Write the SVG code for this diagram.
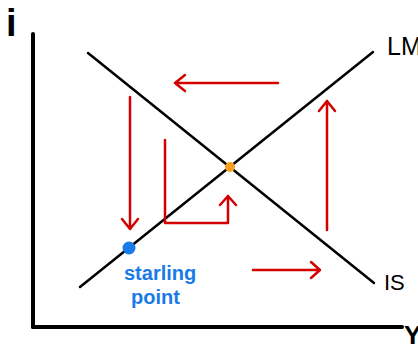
<svg xmlns="http://www.w3.org/2000/svg" width="418" height="345" viewBox="0 0 418 345">
<style>
.axis{stroke:#000;stroke-width:4;stroke-linecap:round;fill:none}
.curve{stroke:#000;stroke-width:2.5;stroke-linecap:round;fill:none}
.arr{stroke:#d40000;stroke-width:2.5;stroke-linecap:round;stroke-linejoin:round;fill:none}
.lbl{font-family:"Liberation Sans",Arial,sans-serif;fill:#000}
.note{font-family:"Liberation Sans",Arial,sans-serif;fill:#1a7ae8;font-weight:bold;font-size:20px}
</style>
<rect width="418" height="345" fill="#fff"/>
<g id="axes">
<line class="axis" x1="33" y1="34" x2="33" y2="327"/>
<line class="axis" x1="33" y1="327" x2="402" y2="327"/>
<text class="lbl" x="6" y="36" font-size="38" font-weight="bold">i</text>
<text class="lbl" x="404" y="344" font-size="26" font-weight="bold">Y</text>
</g>
<g id="LM">
<line class="curve" x1="80" y1="287" x2="373" y2="52"/>
<text class="lbl" x="387" y="55" font-size="25">LM</text>
</g>
<g id="IS">
<line class="curve" x1="88" y1="53" x2="374" y2="283"/>
<text class="lbl" x="384" y="290" font-size="22">IS</text>
</g>
<g id="connectors">
<path class="arr" d="M278 83 H175 M185 75 L175 83 L185 91"/>
<path class="arr" d="M130 97 V229 M122 219 L130 229 L138 219"/>
<path class="arr" d="M165 140 V223 H228 V196 M220 205 L228 196 L236 205"/>
<path class="arr" d="M253 270 H320 M311 262 L320 270 L311 278"/>
<path class="arr" d="M327 230 V101 M319 111 L327 101 L335 111"/>
</g>
<g id="equilibrium">
<circle cx="230" cy="167" r="5" fill="#f5a020"/>
</g>
<g id="start">
<circle cx="129" cy="248" r="6.5" fill="#1a7ae8"/>
<text class="note" x="124" y="280">starling</text>
<text class="note" x="131" y="304">point</text>
</g>
</svg>
